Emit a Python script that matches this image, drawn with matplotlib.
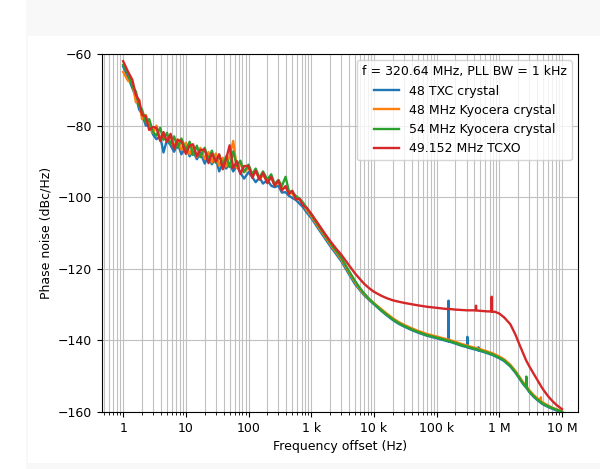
import matplotlib
matplotlib.use("Agg")
import matplotlib.pyplot as plt
from matplotlib.patches import Rectangle
from matplotlib.ticker import EngFormatter, NullFormatter

plt.rcParams["font.size"] = 9

# frequency offsets (Hz), shared by all four traces
freq_low = [1, 1.2, 1.4, 1.6, 1.8, 2, 2.3, 2.6, 3, 3.4, 3.9, 4.4, 5, 5.7, 6.5, 7.4, 8.5,
            10, 11.5, 13, 15, 17, 20, 23, 26, 30, 34, 39, 44, 50, 57, 65, 74, 85,
            100, 115, 130, 150, 170, 200, 230, 260, 300, 340, 390, 440, 500, 570, 650, 740, 850,
            1000]
freq_high = [1300, 1700, 2000, 2500, 3000, 4000, 5000, 6000, 7000, 8500,
             10e3, 13e3, 16e3, 20e3, 25e3, 30e3, 40e3, 50e3, 70e3, 100e3,
             140e3, 153e3, 155e3, 157e3, 200e3, 250e3, 305e3, 310e3, 315e3, 360e3,
             420e3, 425e3, 430e3, 460e3, 465e3, 470e3, 550e3, 650e3, 750e3, 755e3,
             760e3, 850e3, 1e6, 1.2e6, 1.5e6, 1.8e6, 2.1e6, 2.4e6, 2.68e6, 2.7e6,
             2.72e6, 3e6, 3.5e6, 4e6, 4.57e6, 4.6e6, 4.63e6, 5e6, 6e6, 7e6,
             8e6, 9e6, 10e6]
xticks = [1, 10, 100, 1e3, 1e4, 1e5, 1e6, 1e7]

txc_low = [-63.5, -66.5, -69.5, -72.0, -75.5, -76.8, -80.0, -79.8, -82.5, -83.8, -83.0, -87.5, -84.0, -85.5, -87.3, -85.0, -88.0,
           -86.0, -88.6, -87.0, -89.4, -87.5, -90.6, -88.5, -90.8, -89.0, -92.8, -90.5, -92.0, -90.6, -92.8, -91.2, -93.2, -94.8,
           -93.0, -94.4, -95.8, -94.5, -96.2, -95.2, -96.8, -97.2, -96.8, -98.7, -98.6, -99.6, -100.2, -100.8, -101.8, -102.8, -104.3,
           -105.8]
txc_high = [-108.8, -111.8, -113.6, -115.9, -117.8, -121.5, -124.3, -126.0, -127.4, -128.8,
            -129.9, -131.7, -133.0, -134.3, -135.4, -136.1, -137.1, -137.8, -138.7, -139.4,
            -140.1, -140.3, -128.9, -140.3, -140.9, -141.5, -141.9, -139.0, -142.0, -142.3,
            -142.6, -142.6, -142.6, -142.8, -141.9, -142.8, -143.2, -143.6, -144.0, -144.0,
            -144.0, -144.4, -145.0, -145.8, -147.3, -149.0, -150.7, -152.2, -153.2, -153.2,
            -153.3, -154.4, -155.7, -156.6, -157.4, -157.4, -157.5, -157.9, -158.6, -159.1,
            -159.5, -159.8, -160.0]

kyo48_low = [-65.0, -67.5, -68.0, -73.5, -72.8, -78.2, -77.0, -80.5, -82.0, -80.0, -83.8, -82.3, -84.5, -82.8, -85.8, -83.8, -86.8,
             -84.8, -88.0, -86.0, -88.8, -86.2, -89.3, -87.4, -90.3, -87.8, -91.2, -89.0, -91.4, -88.5, -84.3, -91.8, -90.6, -93.0,
             -91.8, -93.8, -92.7, -95.0, -93.8, -95.6, -94.4, -96.6, -95.8, -97.6, -97.2, -98.8, -99.0, -100.4, -100.7, -102.0, -103.6,
             -105.3]
kyo48_high = [-108.3, -111.3, -113.1, -115.4, -117.3, -121.0, -123.8, -125.7, -127.1, -128.6,
              -129.6, -131.2, -132.5, -133.8, -134.9, -135.6, -136.6, -137.3, -138.2, -138.9,
              -139.6, -139.8, -139.8, -139.8, -140.4, -141.0, -141.4, -141.4, -141.5, -141.8,
              -142.1, -142.1, -142.1, -142.3, -142.3, -142.3, -142.7, -143.1, -143.5, -143.5,
              -143.5, -143.9, -144.5, -145.3, -146.8, -148.5, -150.2, -151.7, -152.7, -152.7,
              -152.8, -153.9, -155.2, -156.1, -156.9, -155.9, -157.0, -157.4, -158.2, -158.8,
              -159.2, -159.5, -159.9]

kyo54_low = [-63.0, -65.5, -69.0, -70.5, -74.5, -75.5, -79.2, -78.2, -81.8, -82.8, -80.6, -84.0, -82.0, -85.2, -83.0, -86.2, -83.6,
             -87.0, -84.5, -88.2, -85.6, -88.8, -86.2, -89.7, -87.0, -90.4, -88.2, -91.0, -88.6, -91.6, -87.2, -91.2, -89.8, -93.0,
             -90.9, -93.6, -92.0, -94.6, -92.8, -95.1, -93.6, -96.3, -95.2, -96.9, -94.3, -98.3, -98.5, -99.7, -100.4, -101.5, -103.0,
             -104.9]
kyo54_high = [-107.9, -110.9, -112.7, -115.0, -116.9, -120.6, -123.4, -125.4, -126.9, -128.5,
              -129.7, -131.5, -132.8, -134.1, -135.2, -135.9, -136.9, -137.6, -138.5, -139.2,
              -139.9, -140.1, -140.1, -140.1, -140.7, -141.3, -141.7, -141.7, -141.8, -142.1,
              -142.4, -142.4, -142.4, -142.6, -142.6, -142.6, -143.0, -143.4, -143.8, -143.8,
              -143.8, -144.2, -144.8, -145.6, -147.1, -148.8, -150.5, -152.0, -153.0, -150.1,
              -153.1, -154.2, -155.5, -156.4, -157.2, -157.2, -157.3, -157.7, -158.4, -158.9,
              -159.3, -159.6, -159.9]

tcxo_low = [-62.0, -65.0, -67.2, -71.5, -73.0, -77.0, -77.4, -81.2, -80.4, -80.6, -84.3, -81.8, -84.6, -82.3, -86.5, -84.0, -84.3,
            -87.9, -85.6, -85.2, -88.6, -86.8, -86.7, -90.5, -87.8, -90.1, -88.0, -92.2, -89.3, -85.5, -91.9, -89.9, -93.5, -91.3,
            -91.3, -94.6, -92.6, -95.1, -93.2, -96.1, -94.3, -96.8, -95.3, -98.1, -96.9, -99.1, -98.2, -100.6, -100.4, -102.3, -103.0,
            -104.6]
tcxo_high = [-107.5, -110.5, -112.2, -114.4, -116.0, -119.0, -121.3, -122.9, -124.2, -125.5,
             -126.4, -127.5, -128.2, -128.8, -129.2, -129.5, -129.9, -130.2, -130.6, -130.9,
             -131.2, -131.2, -131.2, -131.2, -131.4, -131.5, -131.6, -131.6, -131.6, -131.6,
             -131.6, -130.3, -131.6, -131.7, -131.7, -131.7, -131.8, -131.9, -131.9, -127.8,
             -132.0, -132.0, -132.5, -133.6, -135.5, -138.3, -141.2, -143.6, -145.6, -145.7,
             -145.8, -147.2, -149.2, -150.9, -152.6, -152.7, -152.8, -153.7, -155.6, -156.9,
             -157.9, -158.6, -159.2]

labels = ["48 TXC crystal", "48 MHz Kyocera crystal", "54 MHz Kyocera crystal", "49.152 MHz TCXO"]

freq = freq_low + freq_high
series = [txc_low + txc_high, kyo48_low + kyo48_high, kyo54_low + kyo54_high, tcxo_low + tcxo_high]

fig = plt.figure(figsize=(6, 4.69), dpi=100)
# page frame around the plot
fig.patches.append(Rectangle((26 / 600, 0), 1, 1, transform=fig.transFigure,
                             facecolor="#f8f8f8", edgecolor="none", zorder=-10))
fig.patches.append(Rectangle((28 / 600, 6 / 469), 1, (463 - 36) / 469, transform=fig.transFigure,
                             facecolor="white", edgecolor="none", zorder=-9))

ax = fig.add_axes([102 / 600, 57 / 469, 476 / 600, 358 / 469])
for vals, lab in zip(series, labels):
    ax.plot(freq, vals, label=lab, lw=1.7)

ax.set_xscale("log")
ax.set_xticks(xticks)
ax.set_xlim(0.46, 1.8e7)
ax.set_ylim(-160, -60)
ax.xaxis.set_major_formatter(EngFormatter())
ax.xaxis.set_minor_formatter(NullFormatter())
ax.grid(True, which="both", color="#c0c0c0")
ax.set_xlabel("Frequency offset (Hz)")
ax.set_ylabel("Phase noise (dBc/Hz)")
ax.legend(title="f = 320.64 MHz, PLL BW = 1 kHz", loc="upper right", title_fontsize=9)

fig.savefig("out.png", dpi=100)
